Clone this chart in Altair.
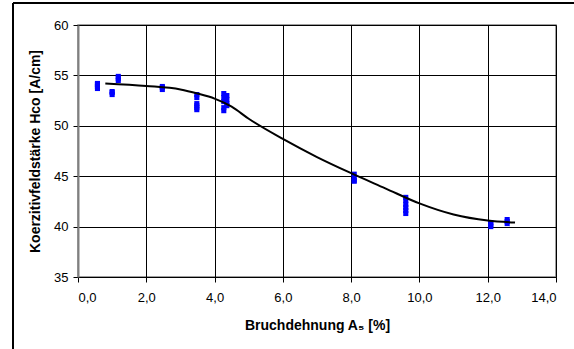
import altair as alt
import pandas as pd

# Measured coercivity values per elongation group
elong_x = [0.57] * 4 + [1.0] * 3 + [1.18] * 3 + [2.47] * 3 + [3.48] * 6 \
    + [4.27] * 5 + [4.36] * 4 + [8.09] * 4 + [9.6] * 6 + [12.09] * 3 + [12.57] * 3
hco_y = [53.7, 53.9, 54.1, 54.2,
         53.1, 53.3, 53.4,
         54.5, 54.7, 54.9,
         53.6, 53.8, 53.9,
         53.1, 52.8, 52.2, 52.0, 51.8, 51.6,
         53.2, 52.8, 52.4, 51.8, 51.5,
         53.0, 52.6, 52.2, 52.0,
         45.2, 44.9, 44.6, 44.5,
         42.9, 42.6, 42.2, 41.9, 41.6, 41.3,
         40.4, 40.2, 40.0,
         40.7, 40.5, 40.3]

# Trend curve through the measurements
trend_x = [0.8, 2.0, 3.0, 3.5, 4.0, 4.5, 5.0, 6.0, 7.0, 8.0, 9.0, 10.0, 11.0, 12.0, 12.8]
trend_y = [54.2, 53.95, 53.6, 53.2, 52.7, 51.9, 50.7, 48.7, 46.9, 45.3, 43.8, 42.3, 41.2, 40.6, 40.4]

pts = pd.DataFrame({"a5": elong_x, "hco": hco_y})
trend = pd.DataFrame({"a5": trend_x, "hco": trend_y})

FONT = "Liberation Sans"

x_enc = alt.X(
    "a5:Q",
    scale=alt.Scale(domain=[0, 14], nice=False, zero=False),
    axis=alt.Axis(
        title="Bruchdehnung A₅ [%]",
        values=[0, 2, 4, 6, 8, 10, 12, 14],
        labelExpr="replace(format(datum.value, '.1f'), '.', ',')",
        grid=True, gridColor="#000000", gridWidth=1, gridOpacity=1,
        domainColor="#000000", domainWidth=1,
        tickColor="#000000", tickSize=5,
        labelFont=FONT, labelFontSize=13, labelColor="#000000", labelPadding=9,
        titleFont=FONT, titleFontSize=14, titleFontWeight="bold", titleColor="#000000",
        titlePadding=14,
    ),
)
y_enc = alt.Y(
    "hco:Q",
    scale=alt.Scale(domain=[35, 60], nice=False, zero=False),
    axis=alt.Axis(
        title="Koerzitivfeldstärke Hco [A/cm]",
        values=[35, 40, 45, 50, 55, 60],
        grid=True, gridColor="#000000", gridWidth=1, gridOpacity=1,
        domainColor="#808080", domainWidth=2,
        tickColor="#000000", tickSize=5,
        labelFont=FONT, labelFontSize=13, labelColor="#000000", labelPadding=5,
        titleFont=FONT, titleFontSize=14, titleFontWeight="bold", titleColor="#000000",
        titlePadding=11,
    ),
)

points = alt.Chart(pts).mark_point(
    shape="square", filled=True, size=26, color="#0000FF", opacity=1
).encode(x=x_enc, y=y_enc)

curve = alt.Chart(trend).mark_line(
    color="#000000", strokeWidth=2, interpolate="monotone"
).encode(x="a5:Q", y="hco:Q")

# Outer chart frame (left and top edges)
frame_left = alt.Chart(trend).mark_rule(color="#000000", strokeWidth=1.5).encode(
    x=alt.value(-65), y=alt.value(-22), y2=alt.value(400)
)
frame_top = alt.Chart(trend).mark_rule(color="#000000", strokeWidth=1.5).encode(
    x=alt.value(-65), x2=alt.value(600), y=alt.value(-22)
)

chart = alt.layer(frame_left, frame_top, points, curve).properties(
    width=478, height=252,
    autosize=alt.AutoSizeParams(type="none"),
    padding={"left": 78, "top": 25, "right": 18, "bottom": 72},
    background="#FFFFFF",
).configure_view(stroke="#808080", strokeWidth=1.5)

chart.save("out.html", embed_options={"renderer": "svg", "actions": False})
